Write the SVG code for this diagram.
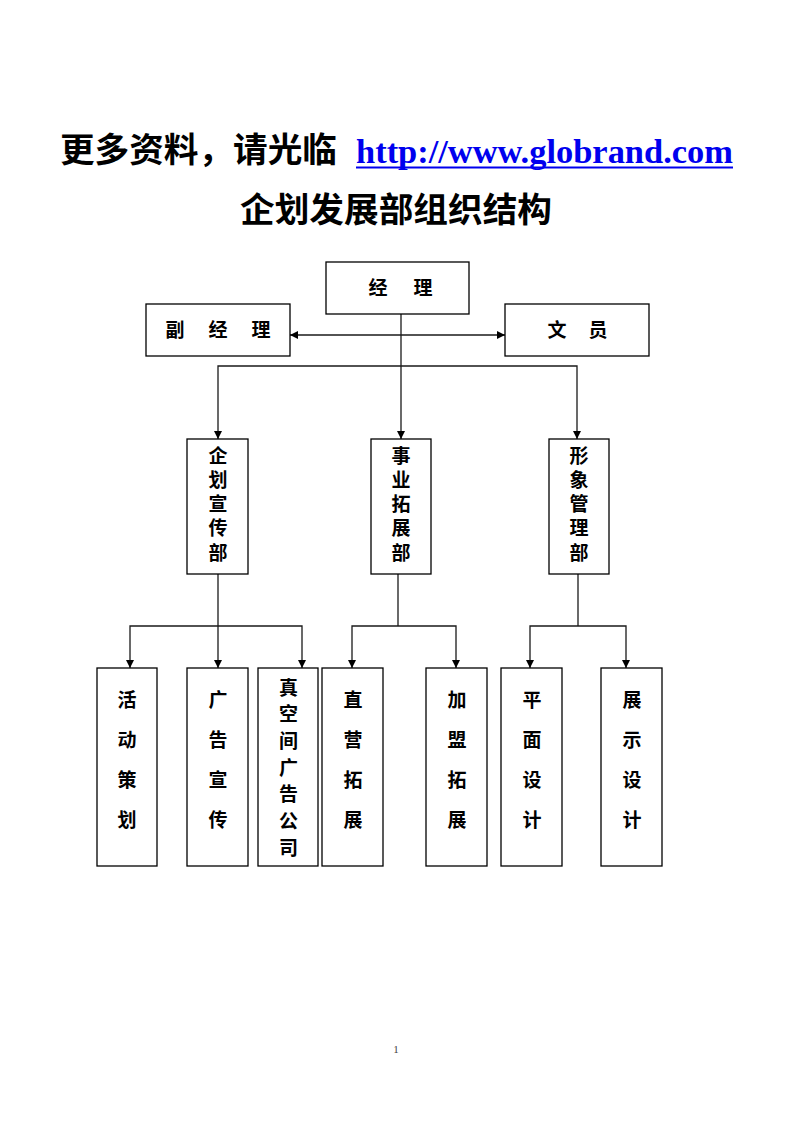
<svg xmlns="http://www.w3.org/2000/svg" width="793" height="1122" viewBox="0 0 793 1122">
<style>
.bg{fill:#ffffff}
.box{fill:#ffffff;stroke:#000000;stroke-width:1.3}
.t{font-family:"Noto Sans CJK SC","Liberation Sans",sans-serif;font-weight:700;font-size:19px;fill:#000000;text-anchor:middle}
.title{font-family:"Noto Sans CJK SC","Liberation Sans",sans-serif;font-weight:700;font-size:34px;fill:#000000}
.url{font-family:"Liberation Serif","Times New Roman",serif;font-weight:700;font-size:34px;fill:#0000ee}
.ln{fill:none;stroke:#1a1a1a;stroke-width:1.3}
.page{font-family:"Liberation Serif",serif;font-size:11px;fill:#444444;text-anchor:middle}
</style>
<defs>
<marker id="ah" markerUnits="userSpaceOnUse" markerWidth="9" markerHeight="8" refX="8" refY="4" orient="auto-start-reverse">
<path d="M0,0 L8,4 L0,8 z" fill="#000000"/>
</marker>
</defs>
<rect class="bg" x="0" y="0" width="793" height="1122"/>

<g id="header">
<text class="title" x="60" y="162" textLength="277" lengthAdjust="spacingAndGlyphs">更多资料，请光临</text>
<text class="url" x="356" y="163" textLength="377" lengthAdjust="spacingAndGlyphs">http://www.globrand.com</text>
<line x1="356" y1="167.5" x2="733" y2="167.5" stroke="#0000ee" stroke-width="2.2"/>
<text class="title" x="396" y="222" text-anchor="middle" textLength="312" lengthAdjust="spacingAndGlyphs">企划发展部组织结构</text>
</g>

<g id="connectors">
<line class="ln" x1="290" y1="335" x2="505" y2="335" marker-start="url(#ah)" marker-end="url(#ah)"/>
<line class="ln" x1="401" y1="314" x2="401" y2="439" marker-end="url(#ah)"/>
<polyline class="ln" points="218,439 218,366 577,366 577,439" marker-start="url(#ah)" marker-end="url(#ah)"/>
<line class="ln" x1="218" y1="574" x2="218" y2="668" marker-end="url(#ah)"/>
<polyline class="ln" points="130,668 130,626 302,626 302,668" marker-start="url(#ah)" marker-end="url(#ah)"/>
<line class="ln" x1="398" y1="574" x2="398" y2="626"/>
<polyline class="ln" points="352,668 352,626 456,626 456,668" marker-start="url(#ah)" marker-end="url(#ah)"/>
<line class="ln" x1="578" y1="574" x2="578" y2="626"/>
<polyline class="ln" points="530,668 530,626 626,626 626,668" marker-start="url(#ah)" marker-end="url(#ah)"/>
</g>

<g id="n-jingli">
<rect class="box" x="326" y="262" width="143" height="52"/>
<text class="t" x="378 400 423" y="295">经 理</text>
</g>
<g id="n-fujingli">
<rect class="box" x="146" y="304" width="144" height="52"/>
<text class="t" x="175 196 218 240 261" y="337">副 经 理</text>
</g>
<g id="n-wenyuan">
<rect class="box" x="505" y="304" width="144" height="52"/>
<text class="t" x="557 578 598" y="337">文 员</text>
</g>

<g id="n-qihua">
<rect class="box" x="187" y="439" width="61" height="135"/>
<text class="t" x="218 218 218 218 218" y="463 487 511 535 560">企划宣传部</text>
</g>
<g id="n-shiye">
<rect class="box" x="371" y="439" width="60" height="135"/>
<text class="t" x="401 401 401 401 401" y="463 487 511 535 560">事业拓展部</text>
</g>
<g id="n-xingxiang">
<rect class="box" x="549" y="439" width="60" height="135"/>
<text class="t" x="579 579 579 579 579" y="463 487 511 535 560">形象管理部</text>
</g>

<g id="n-huodong">
<rect class="box" x="97" y="668" width="60" height="198"/>
<text class="t" x="127 127 127 127" y="707 747 787 827">活动策划</text>
</g>
<g id="n-guanggao">
<rect class="box" x="187" y="668" width="61" height="198"/>
<text class="t" x="218 218 218 218" y="707 747 787 827">广告宣传</text>
</g>
<g id="n-zhenkongjian">
<rect class="box" x="258" y="668" width="60" height="198"/>
<text class="t" x="288.5 288.5 288.5 288.5 288.5 288.5 288.5" y="694.5 721.2 747.8 774.5 801.2 827.8 854.5">真空间广告公司</text>
</g>
<g id="n-zhiying">
<rect class="box" x="322" y="668" width="61" height="198"/>
<text class="t" x="353 353 353 353" y="707 747 787 827">直营拓展</text>
</g>
<g id="n-jiameng">
<rect class="box" x="426" y="668" width="61" height="198"/>
<text class="t" x="457 457 457 457" y="707 747 787 827">加盟拓展</text>
</g>
<g id="n-pingmian">
<rect class="box" x="501" y="668" width="61" height="198"/>
<text class="t" x="532 532 532 532" y="707 747 787 827">平面设计</text>
</g>
<g id="n-zhanshi">
<rect class="box" x="601" y="668" width="61" height="198"/>
<text class="t" x="632 632 632 632" y="707 747 787 827">展示设计</text>
</g>

<text class="page" x="396" y="1053">1</text>
</svg>
